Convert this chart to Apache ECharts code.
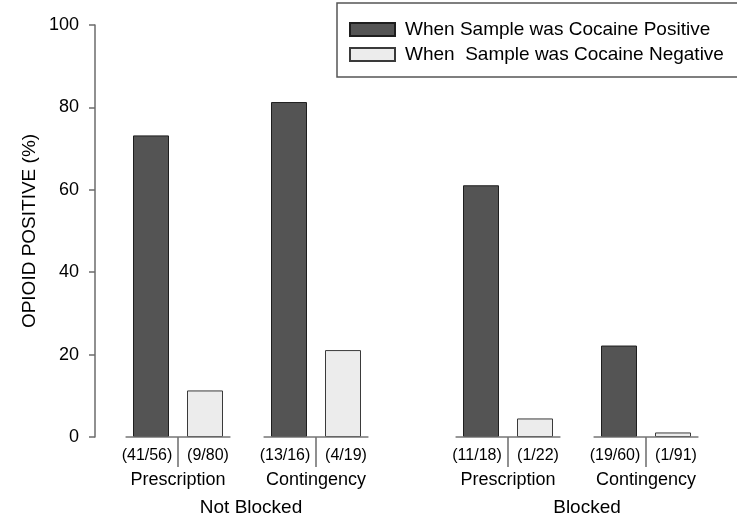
<!DOCTYPE html>
<html>
<head>
<meta charset="utf-8">
<script src="https://cdn.jsdelivr.net/npm/echarts@6/dist/echarts.min.js"></script>
<style>
  html, body { margin: 0; padding: 0; background: #fff; }
  #chart { width: 737px; height: 522px; }
</style>
</head>
<body>
<div id="chart"></div>
<script>
// Opioid-positive urine samples (%), split by cocaine result of the same sample
const panelNames = ['Not Blocked', 'Blocked'];
const scheduleNames = ['Prescription', 'Contingency'];
const seriesNames = ['When Sample was Cocaine Positive', 'When  Sample was Cocaine Negative'];

// one entry per panel: [Prescription, Contingency]
const cocainePositivePct = [[73.2, 81.3], [61.1, 22.2]];
const cocaineNegativePct = [[11.3, 21.1], [4.5, 1.1]];
const cocainePositiveCounts = [['41/56', '13/16'], ['11/18', '19/60']];
const cocaineNegativeCounts = [['9/80', '4/19'], ['1/22', '1/91']];

const yMin = 0, yMax = 100, yStep = 20;

const FONT = "'Liberation Sans', Arial, Helvetica, sans-serif";
const DARK = '#545454';
const LIGHT = '#ececec';
const AXIS_GREY = '#6b6b6b';

const chart = echarts.init(document.getElementById('chart'), null, { renderer: 'canvas' });

const grids = [
  { left: 109, top: 25, width: 276, height: 412 },
  { left: 439, top: 25, width: 276, height: 412 }
];

const xAxes = panelNames.map((panel, i) => ({
  type: 'category',
  gridIndex: i,
  data: scheduleNames,
  axisLine: { show: false },
  axisTick: { show: false },
  axisLabel: { color: '#000', fontSize: 18, fontFamily: FONT, margin: 34 },
  name: panel,
  nameLocation: 'middle',
  nameGap: 61,
  nameTextStyle: { color: '#000', fontSize: 19, fontFamily: FONT, padding: i === 1 ? [0, 0, 0, 20] : [0, 0, 0, 8] }
}));

const yAxes = [
  {
    type: 'value', gridIndex: 0, min: yMin, max: yMax, interval: yStep,
    offset: 14,
    axisLine: { show: true, lineStyle: { color: AXIS_GREY, width: 1.5 } },
    axisTick: { show: true, length: 6, lineStyle: { color: AXIS_GREY, width: 1.5 } },
    axisLabel: { color: '#000', fontSize: 18, fontFamily: FONT, margin: 16 },
    splitLine: { show: false },
    name: 'OPIOID POSITIVE (%)',
    nameLocation: 'middle',
    nameGap: 56,
    nameTextStyle: { color: '#000', fontSize: 19, fontFamily: FONT }
  },
  { type: 'value', gridIndex: 1, min: yMin, max: yMax, interval: yStep, show: false }
];

function barSeries(panelIdx, isPositive) {
  const values = isPositive ? cocainePositivePct[panelIdx] : cocaineNegativePct[panelIdx];
  const counts = isPositive ? cocainePositiveCounts[panelIdx] : cocaineNegativeCounts[panelIdx];
  return {
    type: 'bar',
    name: isPositive ? seriesNames[0] : seriesNames[1],
    xAxisIndex: panelIdx,
    yAxisIndex: panelIdx,
    barWidth: 36,
    barGap: '50%',
    data: values,
    itemStyle: {
      color: isPositive ? DARK : LIGHT,
      borderColor: isPositive ? '#1e1e1e' : '#3a3a3a',
      borderWidth: 1
    },
    label: {
      show: true,
      position: 'bottom',
      distance: 11,
      offset: isPositive ? [-4, 0] : [3, 0],
      color: '#000',
      fontSize: 16,
      fontFamily: FONT,
      formatter: (p) => '(' + counts[p.dataIndex] + ')'
    },
    emphasis: { disabled: true },
    animation: false,
    z: 3
  };
}

// Short baseline under each pair of bars, with a divider tick between them
function baselineSeries(panelIdx) {
  return {
    type: 'custom',
    xAxisIndex: panelIdx,
    yAxisIndex: panelIdx,
    data: scheduleNames.map((_, k) => [k, 0]),
    silent: true,
    animation: false,
    z: 4,
    renderItem: (params, api) => {
      const c = api.coord([api.value(0), 0]);
      const band = api.size([1, 0])[0];
      const half = band * 0.38;
      const style = { stroke: '#747474', lineWidth: 1.6 };
      return {
        type: 'group',
        children: [
          { type: 'line', shape: { x1: c[0] - half, y1: c[1], x2: c[0] + half, y2: c[1] }, style },
          { type: 'line', shape: { x1: c[0], y1: c[1], x2: c[0], y2: c[1] + 30 }, style }
        ]
      };
    }
  };
}

const series = [];
panelNames.forEach((_, i) => {
  series.push(barSeries(i, true));
  series.push(barSeries(i, false));
  series.push(baselineSeries(i));
});

chart.setOption({
  backgroundColor: '#fff',
  animation: false,
  grid: grids,
  xAxis: xAxes,
  yAxis: yAxes,
  legend: {
    data: seriesNames.map((name) => ({ name, icon: 'rect' })),
    orient: 'vertical',
    left: 337,
    top: 3,
    padding: [17, 60, 13, 12],
    itemGap: 6,
    itemWidth: 45,
    itemHeight: 13,
    borderColor: '#555',
    borderWidth: 1.5,
    selectedMode: false,
    textStyle: { color: '#000', fontSize: 19, fontFamily: FONT, padding: [0, 0, 0, 5] }
  },
  series
});
</script>
</body>
</html>
